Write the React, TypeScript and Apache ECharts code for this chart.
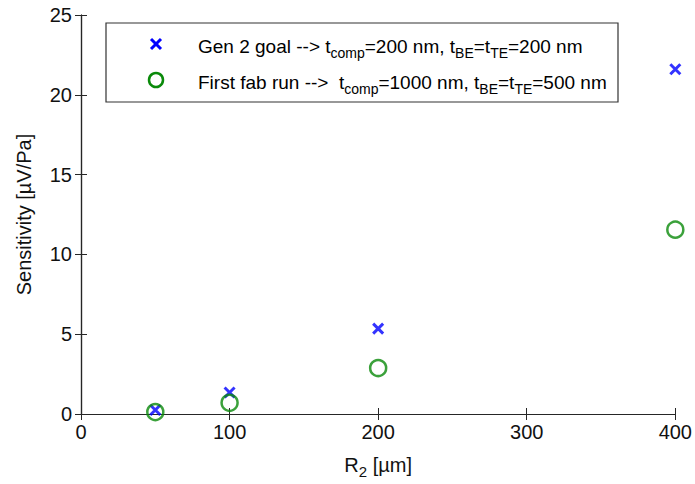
import React, { useEffect, useRef } from "react";
import * as echarts from "echarts";

const xTicks = [0, 100, 200, 300, 400];
const yTicks = [0, 5, 10, 15, 20, 25];
const r2Values = [50, 100, 200, 400];
const gen2Goal = [0.25, 1.35, 5.35, 21.6];
const firstFab = [0.12, 0.7, 2.88, 11.55];

const FONT = "'Liberation Sans', Arial, sans-serif";
const CROSS = "path://M0,0 L10,10 M10,0 L0,10";

export default function App() {
  const ref = useRef<HTMLDivElement>(null);
  useEffect(() => {
    if (!ref.current) return;
    const chart = echarts.init(ref.current, undefined, { renderer: "svg" });
    const gen2Data = r2Values.map((x, i) => [x, gen2Goal[i]]);
    const fabData = r2Values.map((x, i) => [x, firstFab[i]]);
    const axisLine = { show: true, lineStyle: { color: "#262626", width: 1.2 } };
    const axisTick = { show: true, inside: true, length: 6, lineStyle: { color: "#262626" } };
    const legendRich = {
      m: { fontSize: 19, fontFamily: FONT, color: "#111", lineHeight: 27, verticalAlign: "middle" },
      s: { fontSize: 14, fontFamily: FONT, color: "#111", verticalAlign: "bottom" },
    };
    chart.setOption({
      animation: false,
      grid: { left: 81, right: 18, top: 15, bottom: 70, show: false },
      xAxis: [
        {
          type: "value",
          min: xTicks[0],
          max: xTicks[xTicks.length - 1],
          interval: 100,
          axisLine,
          axisTick,
          splitLine: { show: false },
          axisLabel: { fontSize: 20, fontFamily: FONT, color: "#111", margin: 8 },
          name: "{m|R}{s|2}{m| [µm]}",
          nameLocation: "middle",
          nameGap: 37,
          nameTextStyle: {
            rich: {
              m: { fontSize: 20, fontFamily: FONT, color: "#111", lineHeight: 28, verticalAlign: "middle" },
              s: { fontSize: 15, fontFamily: FONT, color: "#111", verticalAlign: "bottom" },
            },
          },
        },
        {
          type: "value",
          position: "top",
          min: xTicks[0],
          max: xTicks[xTicks.length - 1],
          interval: 100,
          axisLine,
          axisTick,
          splitLine: { show: false },
          axisLabel: { show: false },
        },
      ],
      yAxis: [
        {
          type: "value",
          min: yTicks[0],
          max: yTicks[yTicks.length - 1],
          interval: 5,
          axisLine,
          axisTick,
          splitLine: { show: false },
          axisLabel: { fontSize: 20, fontFamily: FONT, color: "#111", margin: 9 },
          name: "Sensitivity [µV/Pa]",
          nameLocation: "middle",
          nameGap: 47,
          nameTextStyle: { fontSize: 20, fontFamily: FONT, color: "#111" },
        },
        {
          type: "value",
          position: "right",
          min: yTicks[0],
          max: yTicks[yTicks.length - 1],
          interval: 5,
          axisLine,
          axisTick,
          splitLine: { show: false },
          axisLabel: { show: false },
        },
      ],
      series: [
        {
          name: "Gen 2 goal",
          type: "scatter",
          data: gen2Data,
          symbol: CROSS,
          symbolSize: 10,
          itemStyle: { color: "none", borderColor: "#0000ff", borderWidth: 3 },
          z: 3,
        },
        {
          name: "First fab run",
          type: "scatter",
          data: fabData,
          symbol: "circle",
          symbolSize: 16,
          itemStyle: { color: "rgba(0,0,0,0)", borderColor: "#0a8a0a", borderWidth: 2.5 },
          z: 4,
        },
      ],
      graphic: [
        {
          type: "rect",
          shape: { x: 106, y: 23, width: 512, height: 79 },
          style: { fill: "#fff", stroke: "#333", lineWidth: 1.2 },
          z: 10,
        },
        {
          type: "polyline",
          shape: { points: [[151, 39], [161, 49]] },
          style: { stroke: "#0000ff", lineWidth: 3 },
          z: 11,
        },
        {
          type: "polyline",
          shape: { points: [[161, 39], [151, 49]] },
          style: { stroke: "#0000ff", lineWidth: 3 },
          z: 11,
        },
        {
          type: "circle",
          shape: { cx: 156, cy: 80, r: 7 },
          style: { fill: "none", stroke: "#0a8a0a", lineWidth: 2.5 },
          z: 11,
        },
        {
          type: "text",
          x: 198,
          y: 46,
          style: {
            text: "{m|Gen 2 goal --> t}{s|comp}{m|=200 nm, t}{s|BE}{m|=t}{s|TE}{m|=200 nm}",
            rich: legendRich,
            verticalAlign: "middle",
          },
          z: 11,
        },
        {
          type: "text",
          x: 198,
          y: 82,
          style: {
            text: "{m|First fab run -->  t}{s|comp}{m|=1000 nm, t}{s|BE}{m|=t}{s|TE}{m|=500 nm}",
            rich: legendRich,
            verticalAlign: "middle",
          },
          z: 11,
        },
      ],
    });
    return () => chart.dispose();
  }, []);
  return (
    <div
      ref={ref}
      style={{ position: "fixed", left: 0, top: 0, width: 695, height: 484, background: "#fff" }}
    />
  );
}
